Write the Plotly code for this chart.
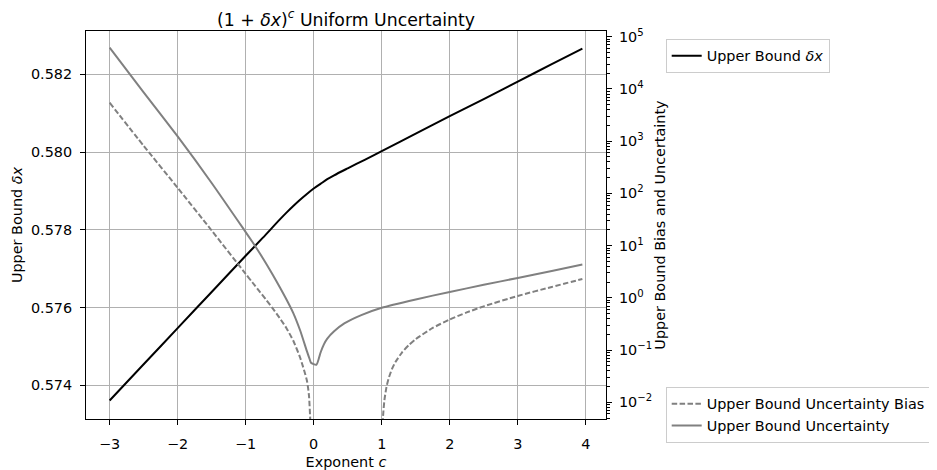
import plotly.graph_objects as go

# ---- data ----
c_dx = [-3, -2.5, -2, -1.5, -1, -0.75, -0.5, -0.4, -0.3, -0.2, -0.1, 0, 0.1, 0.2, 0.3,
        0.5, 0.75, 1, 1.5, 2, 2.5, 3, 3.5, 3.95]
dx_upper = [0.57361, 0.57454, 0.57547, 0.57640, 0.57733, 0.57779, 0.57826, 0.57844,
            0.57861, 0.57877, 0.57892, 0.57906, 0.57918, 0.57930, 0.57940,
            0.57958, 0.57980, 0.58002, 0.58047, 0.58092, 0.58136, 0.58181, 0.58226, 0.58266]

c_unc = [-3, -2.5, -2, -1.5, -1, -0.9, -0.8, -0.7, -0.6, -0.5, -0.4, -0.3, -0.2, -0.1,
         -0.06, -0.04, 0.04, 0.1, 0.15, 0.2, 0.3, 0.45, 0.7, 1.0, 1.5, 2.0, 2.5, 3.0,
         3.5, 3.95]
unc_upper = [61500, 8610, 1230, 158.5, 18.2, 11.75, 7.41, 4.57, 2.754, 1.622, 0.933, 0.513,
             0.240, 0.0955, 0.0676, 0.0575, 0.0525, 0.0891, 0.129, 0.166, 0.229, 0.324,
             0.468, 0.646, 0.933, 1.303, 1.778, 2.415, 3.273, 4.365]

c_bias = [-3, -2.5, -2, -1.5, -1, -0.9, -0.8, -0.7, -0.6, -0.5, -0.4, -0.3, -0.2, -0.1,
          -0.07, -0.05, -0.04,
          0.5,
          1.01, 1.02, 1.04, 1.07, 1.1, 1.15, 1.2, 1.3, 1.4, 1.5, 1.75, 2.0, 2.25, 2.5,
          3.0, 3.5, 3.95]
bias_upper = [5445, 817, 128, 19.5, 2.884, 1.972, 1.349, 0.923, 0.624, 0.412, 0.263, 0.151,
              0.0724, 0.0263, 0.0138, 0.00447, 0.00158,
              None,
              0.00275, 0.00551, 0.0111, 0.0196, 0.0283, 0.0433, 0.0586, 0.0910, 0.1256,
              0.1626, 0.2657, 0.386, 0.527, 0.689, 1.091, 1.622, 2.30]

x_ticks = [-3, -2, -1, 0, 1, 2, 3, 4]
left_ticks = [0.574, 0.576, 0.578, 0.580, 0.582]
right_ticks = [1e-2, 1e-1, 1e0, 1e1, 1e2, 1e3, 1e4, 1e5]
right_tick_text = ["10<sup>−2</sup>", "10<sup>−1</sup>", "10<sup>0</sup>", "10<sup>1</sup>",
                   "10<sup>2</sup>", "10<sup>3</sup>", "10<sup>4</sup>", "10<sup>5</sup>"]
right_minor = [m * 10.0 ** k for k in range(-3, 6) for m in range(2, 10)]

FONT = "DejaVu Sans"
FS = 14.4
GRAY = "#808080"
# the page body adds an 8px margin, so the figure is 8px smaller and shifted
W, H = 929, 462

fig = go.Figure()
fig.add_trace(go.Scatter(x=c_dx, y=dx_upper, mode="lines", name="Upper Bound <i>δx</i>",
                         line=dict(color="black", width=2, shape="spline", smoothing=0.8),
                         legend="legend", showlegend=True, xaxis="x", yaxis="y"))
fig.add_trace(go.Scatter(x=c_bias, y=bias_upper, mode="lines",
                         name="Upper Bound Uncertainty Bias",
                         line=dict(color=GRAY, width=2, dash="5.5px,2.4px",
                                   shape="spline", smoothing=0.6),
                         legend="legend2", showlegend=True, xaxis="x", yaxis="y2",
                         connectgaps=False))
fig.add_trace(go.Scatter(x=c_unc, y=unc_upper, mode="lines",
                         name="Upper Bound Uncertainty",
                         line=dict(color=GRAY, width=2, shape="spline", smoothing=0.6),
                         legend="legend2", showlegend=True, xaxis="x", yaxis="y2"))

axis_common = dict(showline=True, linecolor="black", linewidth=1, ticks="outside",
                   ticklen=5, tickwidth=1, tickcolor="black",
                   tickfont=dict(family=FONT, size=FS, color="black"), zeroline=False,
                   automargin=False)

fig.update_layout(
    width=W, height=H,
    margin=dict(l=78, r=331, t=23, b=51.3, autoexpand=False),
    paper_bgcolor="white", plot_bgcolor="white",
    showlegend=True,
    font=dict(family=FONT, size=FS, color="black"),
    title=dict(text="(1 + <i>δx</i>)<sup><i>c</i></sup> Uniform Uncertainty",
               x=0.5, xref="paper", xanchor="center",
               y=1 - 11.6 / H, yref="container", yanchor="middle",
               font=dict(family=FONT, size=17.3, color="black")),
    xaxis=dict(range=[-3.3475, 4.2975], tickmode="array", tickvals=x_ticks,
               showgrid=True, gridcolor="#b0b0b0", gridwidth=1, mirror=True,
               ticklabelstandoff=7,
               title=dict(text="Exponent <i>c</i>", standoff=8,
                          font=dict(family=FONT, size=FS)),
               **axis_common),
    yaxis=dict(range=[0.573133, 0.583112], tickmode="array", tickvals=left_ticks,
               tickformat=".3f", showgrid=True, gridcolor="#b0b0b0", gridwidth=1,
               mirror=True, ticklabelstandoff=5,
               title=dict(text="Upper Bound <i>δx</i>", standoff=4,
                          font=dict(family=FONT, size=FS)),
               **axis_common),
    yaxis2=dict(type="log", overlaying="y", side="right", anchor="x",
                range=[-2.318, 5.109], tickmode="array", tickvals=right_ticks,
                ticktext=right_tick_text, showgrid=False, ticklabelstandoff=4,
                minor=dict(tickmode="array", tickvals=right_minor, ticks="outside",
                           ticklen=3, tickwidth=1, tickcolor="black", showgrid=False),
                title=dict(text="Upper Bound Bias and Uncertainty", standoff=2,
                           font=dict(family=FONT, size=FS)),
                **axis_common),
    legend=dict(x=1.1148, y=0.9794, xanchor="left", yanchor="top",
                bgcolor="white", bordercolor="#cccccc", borderwidth=1,
                font=dict(family=FONT, size=FS, color="black")),
    legend2=dict(x=1.1148, y=0.0825, xanchor="left", yanchor="top",
                 bgcolor="white", bordercolor="#cccccc", borderwidth=1,
                 font=dict(family=FONT, size=FS, color="black")),
)

fig.write_html("out.html")
